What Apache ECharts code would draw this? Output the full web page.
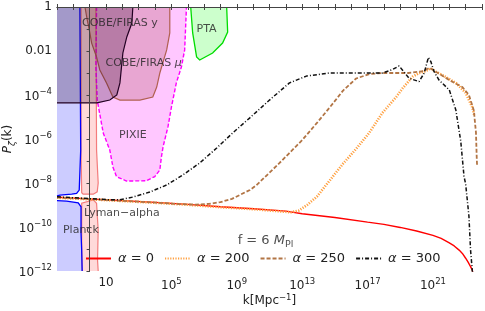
<!DOCTYPE html>
<html>
<head>
<meta charset="utf-8">
<script src="https://cdn.jsdelivr.net/npm/echarts@6/dist/echarts.min.js"></script>
<style>html,body{margin:0;padding:0;background:#fff}#c{width:485px;height:311px}</style>
</head>
<body>
<div id="c"></div>
<script>
// All values are log10(k / Mpc^-1) and log10(P_zeta)
const xTickLabels = [1, 5, 9, 13, 17, 21];
const yTickLabels = [0, -2, -4, -6, -8, -10, -12];

const alpha0 = [[-2,-8.65],[0,-8.72],[2,-8.8],[4,-8.88],[6,-8.97],[8,-9.08],[10,-9.17],[12,-9.28],[13,-9.4],[15,-9.57],[17,-9.78],[18,-9.88],[19,-10.02],[20,-10.18],[21,-10.38],[21.5,-10.52],[22,-10.72],[22.3,-10.86],[22.6,-11.05],[22.8,-11.2],[23,-11.42],[23.15,-11.6],[23.3,-11.8],[23.4,-11.95],[23.45,-12.1]];
const alpha200 = [[-2,-8.67],[0,-8.74],[2,-8.82],[4,-8.9],[6,-8.99],[8,-9.1],[10,-9.19],[11.5,-9.28],[12.3,-9.33],[12.8,-9.25],[13.3,-9.0],[13.9,-8.62],[14.7,-7.87],[15.5,-7.12],[16.3,-6.45],[17.1,-5.72],[17.9,-4.82],[18.75,-4.09],[19.14,-3.7],[19.75,-3.17],[20.15,-3.0],[20.46,-2.94],[20.87,-2.79],[21.17,-2.94],[21.56,-3.09],[22.4,-3.45],[23.0,-3.9],[23.4,-4.55],[23.52,-4.9]];
const alpha250 = [[-2,-8.66],[0,-8.73],[2,-8.81],[4,-8.89],[5.5,-8.96],[6.5,-8.98],[7.3,-8.95],[8,-8.87],[8.7,-8.72],[9.8,-8.32],[10.2,-8.1],[11,-7.53],[11.6,-7.1],[12.2,-6.65],[13.0,-6.05],[13.9,-5.27],[14.7,-4.55],[15.5,-3.8],[16.3,-3.25],[17.1,-3.05],[17.9,-3.0],[18.75,-3.0],[19.5,-3.0],[20.3,-2.93],[20.8,-2.77],[21.2,-2.95],[22.0,-3.32],[22.8,-3.64],[23.2,-4.0],[23.5,-4.7],[23.63,-5.7],[23.68,-6.9],[23.7,-7.2]];
const alpha300 = [[-2,-8.63],[0,-8.71],[1.2,-8.76],[1.85,-8.76],[2.64,-8.64],[3.68,-8.41],[4.71,-8.09],[5.69,-7.64],[6.73,-7.09],[7.77,-6.41],[8.74,-5.73],[9.78,-5.05],[11.0,-4.23],[12.22,-3.45],[13.26,-3.14],[14.66,-3.0],[16.7,-3.0],[17.9,-3.0],[18.5,-2.85],[18.93,-2.68],[19.54,-3.24],[20.15,-3.39],[20.46,-3.01],[20.72,-2.29],[20.87,-2.48],[21.07,-2.94],[21.37,-3.32],[22.0,-3.77],[22.4,-4.68],[22.7,-6.1],[22.9,-7.7],[23.0,-8.05],[23.2,-9.5],[23.3,-11.05],[23.42,-12.1]];

// Constraint regions (polygons)
const planckUpper = [[-2,0],[-0.6,0],[-0.55,-6.5],[-0.64,-8.32],[-0.8,-8.47],[-1.1,-8.51],[-1.82,-8.55],[-2,-8.58]];
const planckLower = [[-2,-8.8],[-1.41,-8.82],[-0.7,-8.9],[-0.53,-9.08],[-0.53,-10.27],[-0.49,-11.05],[-0.46,-12],[-2,-12]];
const lymanUpper = [[-0.53,0],[0.38,0],[0.42,-6.5],[0.52,-8.0],[0.46,-8.4],[0.22,-8.51],[-0.4,-8.51],[-0.49,-8.44],[-0.53,-6.5]];
const lymanLower = [[-0.49,-8.92],[0.22,-8.77],[0.42,-8.92],[0.52,-10.14],[0.48,-11.5],[0.52,-12],[-0.46,-12],[-0.49,-11]];
const cobeY = [[-2,0],[-2,-4.36],[0.44,-4.36],[1.23,-4.23],[1.66,-4.0],[1.85,-3.45],[2.03,-2.09],[2.27,-1.36],[2.58,-0.73],[2.64,0]];
const cobeMu = [[-0.29,0],[-0.15,-0.59],[0.01,-1.18],[0.12,-1.64],[0.42,-2.27],[0.62,-2.86],[1.03,-3.45],[1.42,-4.09],[1.85,-4.23],[3.07,-4.23],[3.86,-4.09],[4.1,-3.64],[4.29,-3.0],[4.71,-1.95],[4.9,-1.18],[4.9,0]];
const pixie = [[0.42,0],[0.38,-2.73],[0.46,-4.23],[0.83,-5.73],[1.23,-6.5],[1.42,-7.27],[1.64,-7.71],[2.25,-7.91],[3.47,-7.9],[3.98,-7.71],[4.29,-7.41],[4.39,-6.8],[4.49,-6.35],[4.79,-5.44],[5.0,-4.55],[5.3,-3.45],[5.61,-2.73],[5.81,-1.95],[5.92,0]];
const pta = [[6.18,0],[6.3,-1.18],[6.54,-2.27],[6.73,-2.41],[7.52,-2.09],[8.13,-1.64],[8.44,-1.14],[8.38,0]];

const regionLabels = [
  {name:'COBE/FIRAS y', value:[1.85,-0.73]},
  {name:'COBE/FIRAS μ', value:[3.3,-2.55]},
  {name:'PTA', value:[7.15,-1.0]},
  {name:'PIXIE', value:[2.64,-5.82]},
  {name:'Lyman−alpha', value:[1.97,-9.36]},
  {name:'Planck', value:[-0.54,-10.14]}
];
const fLabel = {name:'f = 6 M', value:[9.05,-10.6]};

const FONT = 'DejaVu Sans';
const XMIN = -2, XMAX = 24, YMIN = -12, YMAX = 0;

function onEdge(a, b) {
  return (a[0] === XMIN && b[0] === XMIN) || (a[1] === YMAX && b[1] === YMAX) || (a[1] === YMIN && b[1] === YMIN);
}
function strokeRuns(pts) {
  const n = pts.length;
  let start = 0;
  for (let i = 0; i < n; i++) { if (onEdge(pts[i], pts[(i+1)%n])) { start = (i+1)%n; break; } }
  const runs = []; let cur = [pts[start]];
  for (let j = 0; j < n; j++) {
    const a = pts[(start+j)%n], b = pts[(start+j+1)%n];
    if (onEdge(a, b)) { if (cur.length > 1) runs.push(cur); cur = [b]; }
    else cur.push(b);
  }
  if (cur.length > 1) runs.push(cur);
  return runs;
}
function region(pts, fill, stroke, lw, dash) {
  return {
    type: 'custom', silent: true, z: 1,
    data: [pts[0]],
    renderItem: function (params, api) {
      const children = [{type:'polygon', shape:{points: pts.map(p => api.coord(p))}, style:{fill: fill, stroke: null}}];
      strokeRuns(pts).forEach(r => children.push({type:'polyline', shape:{points: r.map(p => api.coord(p))}, style:{fill:null, stroke: stroke, lineWidth: lw, lineDash: dash || null}}));
      return {type:'group', children: children};
    }
  };
}

const sup = (b, s) => '{b|' + b + '}{s|' + s + '}';
const tickRich = {
  b: {fontSize: 12, fontFamily: FONT, color: '#222', verticalAlign: 'bottom'},
  s: {fontSize: 8.5, fontFamily: FONT, color: '#222', verticalAlign: 'bottom', padding: [0, 0, 6, 0]}
};

const chart = echarts.init(document.getElementById('c'), null, {renderer: 'canvas'});
const axisLine = {show: true, lineStyle: {color: '#444', width: 1}};

chart.setOption({
  animation: false,
  backgroundColor: '#fff',
  grid: {left: 57, right: 3, top: 7, bottom: 40, containLabel: false, outerBoundsMode: 'none'},
  xAxis: [{
    type: 'value', min: XMIN, max: XMAX, interval: 1, z: 10,
    axisLine: axisLine, splitLine: {show: false},
    axisTick: {inside: true, length: 3, lineStyle: {color: '#444'}},
    axisLabel: {margin: 6, fontFamily: FONT, fontSize: 12, color: '#222', rich: tickRich,
      formatter: v => { const e = Math.round(v); if (xTickLabels.indexOf(e) < 0) return ''; return e === 1 ? '{b|10}' : sup('10', e); }},
    name: 'k[Mpc{s|−1}]', nameLocation: 'middle', nameGap: 22, nameMoveOverlap: false,
    nameTextStyle: {fontFamily: FONT, fontSize: 12, color: '#222', rich: tickRich}
  }, {
    type: 'value', position: 'top', min: XMIN, max: XMAX, interval: 1, z: 10,
    axisLine: axisLine, splitLine: {show: false},
    axisTick: {inside: true, length: 3, lineStyle: {color: '#444'}},
    axisLabel: {show: false}
  }],
  yAxis: [{
    type: 'value', min: YMIN, max: YMAX, interval: 2, z: 10,
    axisLine: axisLine, splitLine: {show: false},
    axisTick: {inside: false, length: 3, lineStyle: {color: '#444'}},
    axisLabel: {margin: 5, fontFamily: FONT, fontSize: 12, color: '#222', rich: tickRich,
      formatter: v => { const e = Math.round(v); if (yTickLabels.indexOf(e) < 0) return ''; if (e === 0) return '{b|1}'; if (e === -2) return '{b|0.01}'; return sup('10', '−' + (-e)); }},
    name: '{i|P}{sub|ζ}{n|(k)}', nameLocation: 'middle', nameGap: 43, nameRotate: 90, nameMoveOverlap: false,
    nameTextStyle: {rich: {
      i: {fontFamily: FONT, fontSize: 12, fontStyle: 'italic', color: '#222', verticalAlign: 'bottom'},
      sub: {fontFamily: FONT, fontSize: 9, fontStyle: 'italic', color: '#222', verticalAlign: 'bottom', padding: [0, 0, -3, 0]},
      n: {fontFamily: FONT, fontSize: 12, color: '#222', verticalAlign: 'bottom'}
    }}
  }, {
    type: 'value', position: 'right', min: YMIN, max: YMAX, interval: 1, z: 10,
    axisLine: axisLine, splitLine: {show: false},
    axisTick: {inside: true, length: 3, lineStyle: {color: '#444'}},
    axisLabel: {show: false}
  }],
  legend: {
    data: ['α = 0', 'α = 200', 'α = 250', 'α = 300'],
    left: 80, top: 247, itemWidth: 25, itemHeight: 12, itemGap: 10,
    itemStyle: {opacity: 0, borderWidth: 0},
    formatter: name => '{i|α}' + name.slice(1),
    textStyle: {fontFamily: FONT, fontSize: 13, color: '#222', padding: [0, 0, 0, 2],
      rich: {i: {fontFamily: FONT, fontSize: 13, fontStyle: 'italic', color: '#222'}}}
  },
  series: [
    region(lymanUpper, 'rgba(255,0,0,0.15)', '#f47c7c', 1.2),
    region(lymanLower, 'rgba(255,0,0,0.15)', '#f47c7c', 1.2),
    region(planckUpper, 'rgba(0,0,255,0.2)', '#0000ff', 1.3),
    region(planckLower, 'rgba(0,0,255,0.2)', '#0000ff', 1.3),
    region(pixie, 'rgba(255,0,255,0.22)', '#ff00ff', 1.4, [4, 2]),
    region(cobeMu, 'rgba(150,50,50,0.22)', '#b06050', 1.2),
    region(cobeY, 'rgba(40,0,40,0.25)', '#220022', 1.2),
    region(pta, 'rgba(0,255,0,0.2)', '#00dd00', 1.3),
    {name: 'α = 0', type: 'line', data: alpha0, symbol: 'none', z: 5,
      lineStyle: {color: '#ff0000', width: 1.4, type: 'solid'}, itemStyle: {color: '#ff0000'}},
    {name: 'α = 200', type: 'line', data: alpha200, symbol: 'none', z: 5,
      lineStyle: {color: '#ffa040', width: 2.6, type: [1.2, 1.4]}, itemStyle: {color: '#ffa040'}},
    {name: 'α = 250', type: 'line', data: alpha250, symbol: 'none', z: 5,
      lineStyle: {color: '#b27545', width: 1.8, type: [4, 2]}, itemStyle: {color: '#b27545'}},
    {name: 'α = 300', type: 'line', data: alpha300, symbol: 'none', z: 5,
      lineStyle: {color: '#111', width: 1.5, type: [4, 2, 1, 2]}, itemStyle: {color: '#111'}},
    {type: 'scatter', silent: true, z: 6, symbolSize: 0, data: regionLabels,
      label: {show: true, position: 'inside', formatter: p => p.name === 'COBE/FIRAS μ' ? 'COBE/FIRAS {i|μ}' : p.name,
        fontFamily: FONT, fontSize: 11, color: '#222', rich: {i: {fontFamily: FONT, fontSize: 11, fontStyle: 'italic', color: '#222'}}}},
    {type: 'scatter', silent: true, z: 6, symbolSize: 0, data: [fLabel],
      label: {show: true, position: 'right', distance: 0, formatter: '{n|f = 6 }{i|M}{sub|Pl}',
        rich: {n: {fontFamily: FONT, fontSize: 13, color: '#222', verticalAlign: 'bottom'},
               i: {fontFamily: FONT, fontSize: 13, fontStyle: 'italic', color: '#222', verticalAlign: 'bottom'},
               sub: {fontFamily: FONT, fontSize: 9.5, color: '#222', verticalAlign: 'bottom', padding: [0, 0, -3, 0]}}}}
  ]
});
</script>
</body>
</html>
